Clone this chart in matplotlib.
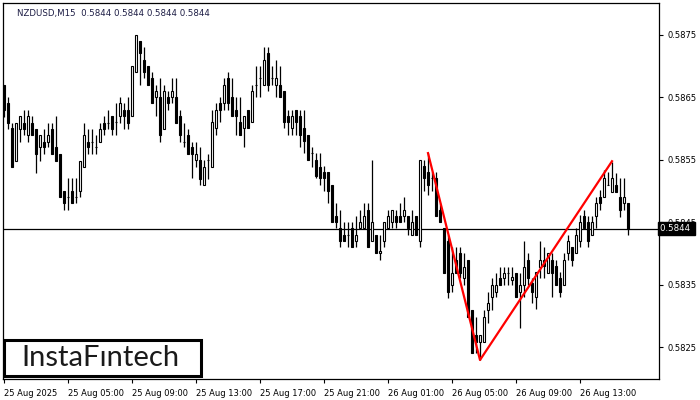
import numpy as np
import matplotlib
matplotlib.use("Agg")
import matplotlib.pyplot as plt
import matplotlib.transforms as mtransforms
from matplotlib.patches import Rectangle

# NZDUSD M15 candles, oldest first
opens = [0.58670, 0.58641, 0.58601, 0.58548, 0.58600, 0.58609, 0.58590, 0.58609, 0.58600, 0.58571,
         0.58579, 0.58579, 0.58600, 0.58571, 0.58560, 0.58500, 0.58491, 0.58500, 0.58491, 0.58500,
         0.58539, 0.58579, 0.58579, 0.58571, 0.58579, 0.58609, 0.58609, 0.58620, 0.58611, 0.58620,
         0.58630, 0.58630, 0.58620, 0.58691, 0.58740, 0.58710, 0.58700, 0.58681, 0.58651, 0.58651,
         0.58600, 0.58651, 0.58651, 0.58651, 0.58620, 0.58579, 0.58590, 0.58571, 0.58550, 0.58550,
         0.58510, 0.58550, 0.58539, 0.58601, 0.58641, 0.58641, 0.58681, 0.58651, 0.58630, 0.58611,
         0.58601, 0.58630, 0.58611, 0.58670, 0.58681, 0.58670, 0.58721, 0.58681, 0.58670, 0.58670,
         0.58660, 0.58620, 0.58601, 0.58630, 0.58620, 0.58601, 0.58590, 0.58561, 0.58550, 0.58539,
         0.58531, 0.58531, 0.58510, 0.58460, 0.58441, 0.58430, 0.58430, 0.58441, 0.58420, 0.58441,
         0.58441, 0.58470, 0.58420, 0.58430, 0.58401, 0.58420, 0.58441, 0.58451, 0.58460, 0.58460,
         0.58460, 0.58460, 0.58430, 0.58460, 0.58420, 0.58540, 0.58531, 0.58521, 0.58521, 0.58470,
         0.58441, 0.58420, 0.58350, 0.58390, 0.58401, 0.58361, 0.58390, 0.58310, 0.58270, 0.58259,
         0.58259, 0.58310, 0.58331, 0.58339, 0.58361, 0.58361, 0.58369, 0.58358, 0.58369, 0.58339,
         0.58350, 0.58390, 0.58353, 0.58331, 0.58379, 0.58390, 0.58369, 0.58390, 0.58380, 0.58361,
         0.58350, 0.58401, 0.58411, 0.58401, 0.58420, 0.58460, 0.58451, 0.58430, 0.58460, 0.58491,
         0.58491, 0.58510, 0.58499, 0.58510, 0.58491, 0.58481, 0.58481]
highs = [0.58670, 0.58651, 0.58609, 0.58609, 0.58620, 0.58630, 0.58630, 0.58620, 0.58600, 0.58590,
         0.58600, 0.58609, 0.58609, 0.58620, 0.58560, 0.58500, 0.58521, 0.58521, 0.58521, 0.58548,
         0.58609, 0.58600, 0.58600, 0.58590, 0.58609, 0.58620, 0.58630, 0.58620, 0.58641, 0.58651,
         0.58641, 0.58651, 0.58700, 0.58750, 0.58740, 0.58731, 0.58700, 0.58691, 0.58670, 0.58681,
         0.58670, 0.58660, 0.58681, 0.58681, 0.58630, 0.58609, 0.58600, 0.58579, 0.58579, 0.58571,
         0.58550, 0.58560, 0.58630, 0.58641, 0.58651, 0.58681, 0.58691, 0.58681, 0.58651, 0.58651,
         0.58620, 0.58630, 0.58670, 0.58700, 0.58700, 0.58731, 0.58731, 0.58700, 0.58710, 0.58700,
         0.58660, 0.58630, 0.58630, 0.58630, 0.58630, 0.58630, 0.58590, 0.58571, 0.58561, 0.58561,
         0.58540, 0.58531, 0.58510, 0.58481, 0.58470, 0.58451, 0.58451, 0.58451, 0.58460, 0.58470,
         0.58481, 0.58481, 0.58550, 0.58430, 0.58430, 0.58451, 0.58470, 0.58470, 0.58470, 0.58481,
         0.58491, 0.58460, 0.58470, 0.58460, 0.58550, 0.58550, 0.58561, 0.58531, 0.58531, 0.58481,
         0.58441, 0.58430, 0.58411, 0.58411, 0.58411, 0.58401, 0.58390, 0.58310, 0.58299, 0.58270,
         0.58310, 0.58339, 0.58361, 0.58369, 0.58379, 0.58379, 0.58379, 0.58379, 0.58369, 0.58369,
         0.58420, 0.58401, 0.58361, 0.58371, 0.58420, 0.58411, 0.58401, 0.58401, 0.58390, 0.58371,
         0.58401, 0.58430, 0.58411, 0.58441, 0.58462, 0.58470, 0.58460, 0.58460, 0.58491, 0.58502,
         0.58534, 0.58531, 0.58547, 0.58529, 0.58521, 0.58521, 0.58481]
lows = [0.58619, 0.58600, 0.58539, 0.58548, 0.58579, 0.58590, 0.58579, 0.58590, 0.58529, 0.58548,
        0.58560, 0.58571, 0.58560, 0.58548, 0.58491, 0.58470, 0.58470, 0.58481, 0.58481, 0.58491,
        0.58539, 0.58560, 0.58560, 0.58560, 0.58579, 0.58590, 0.58600, 0.58590, 0.58590, 0.58609,
        0.58600, 0.58600, 0.58620, 0.58691, 0.58670, 0.58681, 0.58670, 0.58641, 0.58620, 0.58579,
        0.58600, 0.58630, 0.58641, 0.58609, 0.58579, 0.58571, 0.58560, 0.58521, 0.58539, 0.58510,
        0.58510, 0.58520, 0.58539, 0.58590, 0.58611, 0.58630, 0.58630, 0.58620, 0.58590, 0.58590,
        0.58571, 0.58601, 0.58611, 0.58651, 0.58651, 0.58670, 0.58660, 0.58670, 0.58651, 0.58651,
        0.58601, 0.58590, 0.58590, 0.58590, 0.58571, 0.58561, 0.58550, 0.58539, 0.58521, 0.58510,
        0.58500, 0.58481, 0.58451, 0.58441, 0.58411, 0.58420, 0.58411, 0.58411, 0.58411, 0.58441,
        0.58441, 0.58411, 0.58420, 0.58401, 0.58390, 0.58411, 0.58441, 0.58441, 0.58441, 0.58451,
        0.58451, 0.58430, 0.58430, 0.58430, 0.58411, 0.58500, 0.58494, 0.58500, 0.58460, 0.58451,
        0.58369, 0.58329, 0.58339, 0.58369, 0.58361, 0.58350, 0.58299, 0.58241, 0.58241, 0.58230,
        0.58259, 0.58289, 0.58310, 0.58331, 0.58350, 0.58350, 0.58350, 0.58350, 0.58331, 0.58281,
        0.58331, 0.58350, 0.58321, 0.58312, 0.58361, 0.58361, 0.58369, 0.58331, 0.58350, 0.58331,
        0.58350, 0.58390, 0.58380, 0.58401, 0.58411, 0.58441, 0.58411, 0.58430, 0.58441, 0.58470,
        0.58491, 0.58510, 0.58499, 0.58499, 0.58459, 0.58470, 0.58430]
closes = [0.58630, 0.58609, 0.58539, 0.58609, 0.58620, 0.58600, 0.58620, 0.58590, 0.58560, 0.58590,
          0.58571, 0.58590, 0.58560, 0.58548, 0.58491, 0.58481, 0.58491, 0.58481, 0.58491, 0.58548,
          0.58590, 0.58571, 0.58579, 0.58571, 0.58600, 0.58600, 0.58609, 0.58600, 0.58611, 0.58641,
          0.58620, 0.58609, 0.58700, 0.58750, 0.58721, 0.58691, 0.58670, 0.58641, 0.58660, 0.58590,
          0.58660, 0.58641, 0.58660, 0.58609, 0.58590, 0.58579, 0.58560, 0.58560, 0.58560, 0.58520,
          0.58539, 0.58550, 0.58611, 0.58630, 0.58630, 0.58670, 0.58641, 0.58620, 0.58620, 0.58590,
          0.58620, 0.58601, 0.58660, 0.58670, 0.58681, 0.58710, 0.58670, 0.58681, 0.58681, 0.58651,
          0.58611, 0.58611, 0.58620, 0.58611, 0.58590, 0.58580, 0.58550, 0.58561, 0.58525, 0.58521,
          0.58521, 0.58500, 0.58451, 0.58451, 0.58420, 0.58420, 0.58430, 0.58411, 0.58430, 0.58451,
          0.58460, 0.58411, 0.58451, 0.58401, 0.58404, 0.58451, 0.58460, 0.58470, 0.58451, 0.58451,
          0.58470, 0.58441, 0.58451, 0.58430, 0.58550, 0.58521, 0.58510, 0.58521, 0.58460, 0.58451,
          0.58369, 0.58339, 0.58369, 0.58369, 0.58369, 0.58379, 0.58299, 0.58241, 0.58259, 0.58270,
          0.58299, 0.58321, 0.58350, 0.58350, 0.58350, 0.58369, 0.58369, 0.58363, 0.58331, 0.58350,
          0.58379, 0.58361, 0.58339, 0.58371, 0.58390, 0.58380, 0.58401, 0.58369, 0.58350, 0.58339,
          0.58390, 0.58420, 0.58390, 0.58430, 0.58451, 0.58441, 0.58420, 0.58451, 0.58481, 0.58481,
          0.58521, 0.58510, 0.58521, 0.58499, 0.58470, 0.58491, 0.58440]

last_price = 0.5844
title_text = "NZDUSD,M15  0.5844 0.5844 0.5844 0.5844"

# x labels every 16 bars (4 hours)
tick_idx = [0, 16, 32, 48, 64, 80, 96, 112, 128, 144]
tick_labels = ["25 Aug 2025", "25 Aug 05:00", "25 Aug 09:00", "25 Aug 13:00", "25 Aug 17:00",
               "25 Aug 21:00", "26 Aug 01:00", "26 Aug 05:00", "26 Aug 09:00", "26 Aug 13:00"]
price_ticks = [0.5825, 0.5835, 0.5845, 0.5855, 0.5865, 0.5875]

# pattern outline (bar index, price)
pattern_idx = [106, 119, 152]
pattern_px = [0.58561, 0.58230, 0.58548]

o = np.array(opens); h = np.array(highs); l = np.array(lows); c = np.array(closes)
x = np.arange(len(o))

fig = plt.figure(figsize=(7, 4), dpi=100)
ax = fig.add_axes([3/700, 21/400, 656/700, 376/400])

# wicks
ax.vlines(x, l, h, color="black", linewidth=0.9, zorder=2)
# bodies
up = c >= o
bottoms = np.minimum(o, c)
heights = np.abs(c - o)
ax.bar(x, heights, bottom=bottoms, width=0.72,
       color=np.where(up, "white", "black"), edgecolor="black", linewidth=0.8, zorder=3)

# pattern line
ax.plot(pattern_idx, pattern_px, color="#ff0000", linewidth=1.6, zorder=4)

# current price line
ax.axhline(last_price, color="black", linewidth=0.9, zorder=1)

ax.set_xlim(-0.25, 163.75)
ax.set_ylim(0.581996, 0.588012)

ax.yaxis.tick_right()
ax.set_yticks(price_ticks)
ax.set_yticklabels([f"{p:.4f}" for p in price_ticks])
ax.set_xticks(tick_idx)
ax.set_xticklabels(tick_labels)
for t in ax.get_xticklabels():
    t.set_horizontalalignment("left")
ax.tick_params(axis="both", direction="out", length=3, width=0.8, labelsize=6,
               colors="black", pad=3)
ax.tick_params(axis="x", pad=4)
for s in ax.spines.values():
    s.set_linewidth(0.9)

# price label on the right axis
trans = mtransforms.blended_transform_factory(ax.transAxes, ax.transData)
ax.text(1.002, last_price, f"{last_price:.4f} ", transform=trans, ha="left", va="center",
        fontsize=6.2, color="white", zorder=10, clip_on=False,
        bbox=dict(boxstyle="square,pad=0.25", facecolor="black", edgecolor="black"))

ax.text(0.022, 0.985, title_text, transform=ax.transAxes, ha="left", va="top",
        fontsize=6.2, color="#1c1c44")

# logo box
logo = Rectangle((1/656, 3/376), 197/656, 36/376, transform=ax.transAxes,
                 facecolor="white", edgecolor="black", linewidth=2.2, zorder=8)
ax.add_patch(logo)
ax.text(0.148, 0.055, "InstaF\u0131ntech", transform=ax.transAxes, ha="center", va="center",
        fontsize=21, color="#1a1a1a", family="Lato", zorder=9)

fig.savefig("out.png", dpi=100)
